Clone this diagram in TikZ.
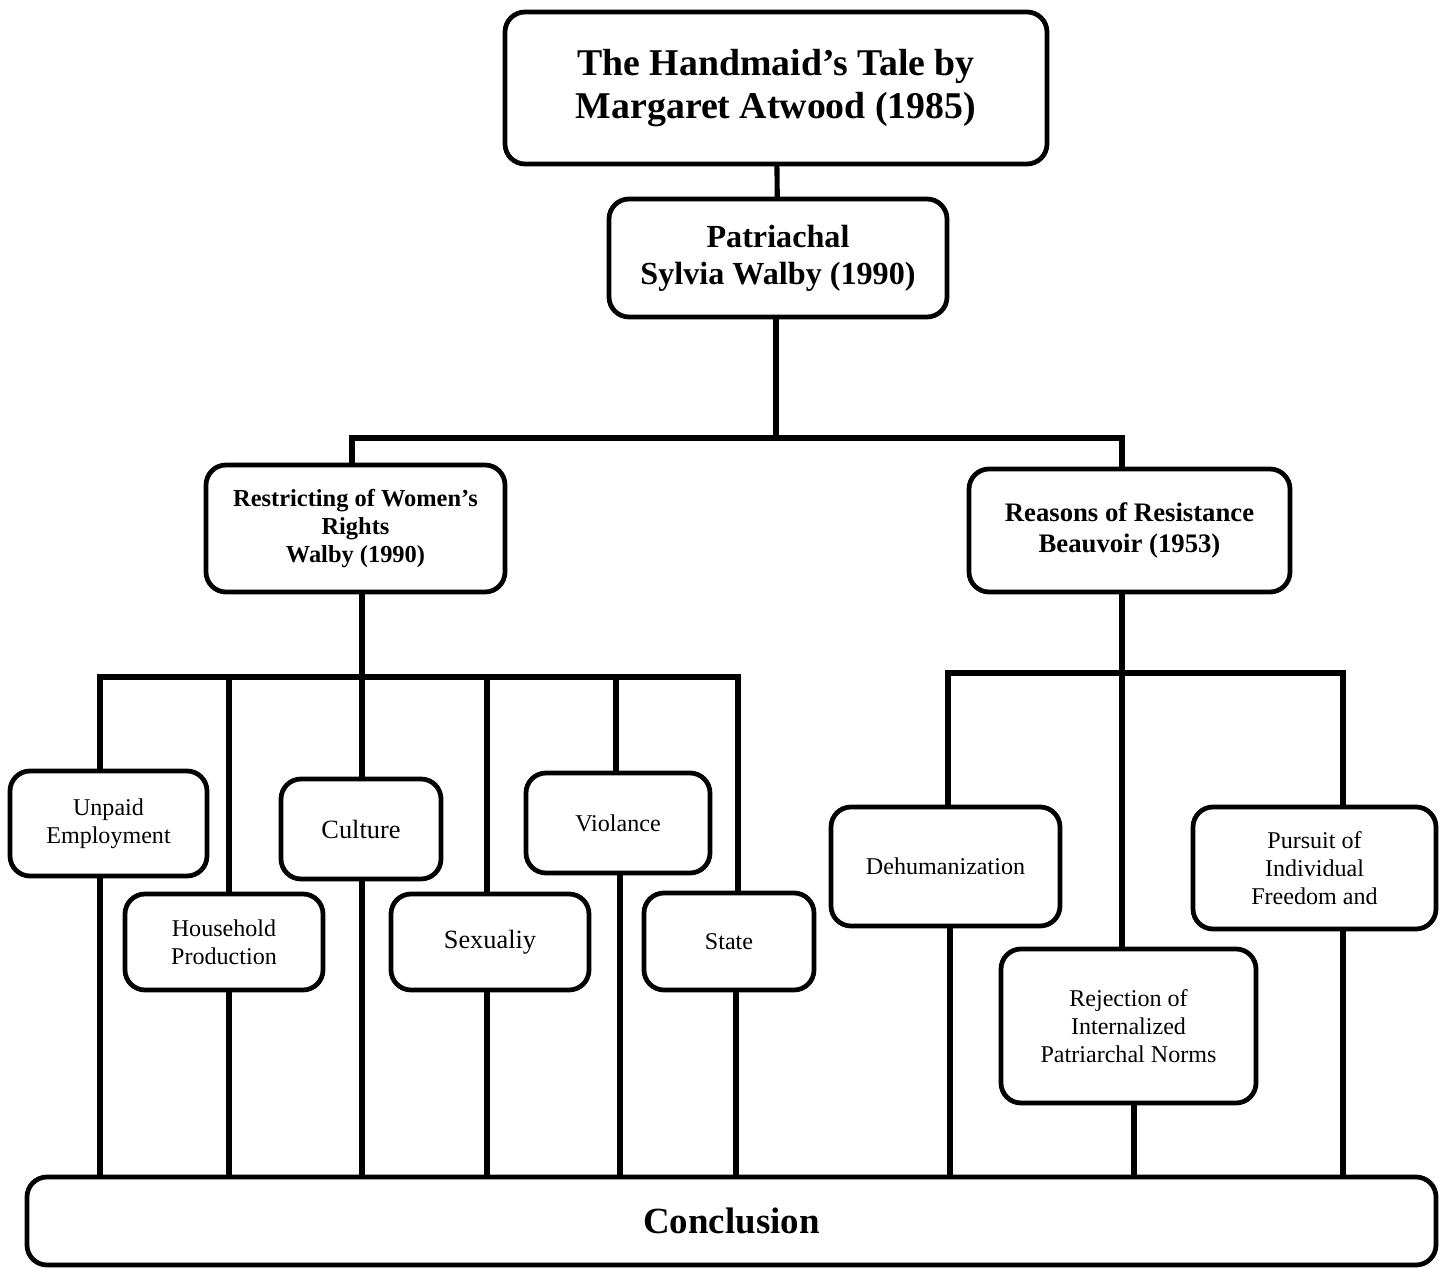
\documentclass[tikz,border=0pt]{standalone}
\usepackage{fontspec}
\setmainfont{Liberation Serif}
\usetikzlibrary{positioning}

\tikzset{
  box/.style={draw,rounded corners=4mm,line width=2.7pt,align=center,inner sep=0pt},
  link/.style={line width=2.9pt,line cap=rect},
  small/.style={font=\fontsize{13.7}{16}\selectfont}
}

\begin{document}
\begin{tikzpicture}[x=0.2mm,y=-0.2mm]
    \useasboundingbox (0,0) rectangle (1448,1268);
    % top of the tree
    \node[box,minimum width=108.4mm,minimum height=30.4mm,font=\fontsize{21.5}{24}\selectfont\bfseries] (title) at (776,88) {The Handmaid’s Tale by\\Margaret Atwood (1985)};
    \node[box,minimum width=67.6mm,minimum height=23.6mm,font=\fontsize{18.3}{21}\selectfont\bfseries] (patr) at (778,258) {Patriachal\\Sylvia Walby (1990)};
    \node[box,minimum width=59.8mm,minimum height=25.4mm,font=\fontsize{13.9}{16}\selectfont\bfseries] (restr) at (355.5,528.5) {Restricting of Women’s\\Rights\\Walby (1990)};
    \node[box,minimum width=64.2mm,minimum height=24.6mm,font=\fontsize{15.2}{17.6}\selectfont\bfseries] (reas) at (1129.5,530.5) {Reasons of Resistance\\Beauvoir (1953)};
    % left branch
    \node[box,small,minimum width=39.4mm,minimum height=21mm] (unpaid) at (108.5,823.5) {Unpaid\\Employment};
    \node[box,small,minimum width=39.6mm,minimum height=19.2mm] (house) at (224,942) {Household\\Production};
    \node[box,minimum width=32mm,minimum height=20mm,font=\fontsize{15}{18}\selectfont] (cult) at (361,829) {Culture};
    \node[box,minimum width=39.6mm,minimum height=19.2mm,font=\fontsize{15}{18}\selectfont] (sex) at (490,942) {Sexualiy};
    \node[box,small,minimum width=36.8mm,minimum height=20mm] (viol) at (618,823) {Violance};
    \node[box,small,minimum width=34mm,minimum height=19.4mm] (state) at (729,941.5) {State};
    % right branch
    \node[box,small,minimum width=45.8mm,minimum height=23.8mm] (dehum) at (945.5,866.5) {Dehumanization};
    \node[box,small,minimum width=51mm,minimum height=30.8mm] (rej) at (1128.5,1026) {Rejection of\\Internalized\\Patriarchal Norms};
    \node[box,small,minimum width=48.6mm,minimum height=24.4mm] (purs) at (1314.5,868) {Pursuit of\\Individual\\Freedom and};
    % bottom
    \node[box,minimum width=281.8mm,minimum height=17.6mm,font=\fontsize{21}{24}\selectfont\bfseries] (concl) at (731.5,1221) {Conclusion};

    % junctions
    \coordinate (busL) at (352,438);
    \coordinate (busR) at (1122,438);
    \coordinate (busA) at (776,438);
    \coordinate (restrD) at (362,591);
    \coordinate (lbL) at (100,677);
    \coordinate (lbR) at (738,677);
    \coordinate (reasD) at (1122,591);
    \coordinate (rbL) at (948,673);
    \coordinate (rbR) at (1343,673);

    \draw[link] (title) -- (patr);
    \draw[link] (patr.south -| busA) -- (busA);
    \draw[link] (busL) -- (busR);
    \draw[link] (busL) -- (restr.north -| busL);
    \draw[link] (busR) -- (reas.north -| busR);

    \draw[link] (restr.south -| restrD) -- (restrD |- lbL);
    \draw[link] (lbL) -- (lbR);
    \draw[link] (lbL) -- (unpaid.north -| lbL);
    \draw[link] (lbL -| 229,0) -- (house.north -| 229,0);
    \draw[link] (lbL -| 362,0) -- (cult.north -| 362,0);
    \draw[link] (lbL -| 487,0) -- (sex.north -| 487,0);
    \draw[link] (lbL -| 616,0) -- (viol.north -| 616,0);
    \draw[link] (lbR) -- (state.north -| lbR);

    \draw[link] (reas.south -| reasD) -- (reasD |- rbL);
    \draw[link] (rbL) -- (rbR);
    \draw[link] (rbL) -- (dehum.north -| rbL);
    \draw[link] (rbL -| 1122,0) -- (rej.north -| 1122,0);
    \draw[link] (rbR) -- (purs.north -| rbR);

    % down to the conclusion
    \draw[link] (unpaid.south -| 100,0) -- (concl.north -| 100,0);
    \draw[link] (house.south -| 229,0) -- (concl.north -| 229,0);
    \draw[link] (cult.south -| 362,0) -- (concl.north -| 362,0);
    \draw[link] (sex.south -| 487,0) -- (concl.north -| 487,0);
    \draw[link] (viol.south -| 620,0) -- (concl.north -| 620,0);
    \draw[link] (state.south -| 736,0) -- (concl.north -| 736,0);
    \draw[link] (dehum.south -| 950,0) -- (concl.north -| 950,0);
    \draw[link] (rej.south -| 1134,0) -- (concl.north -| 1134,0);
    \draw[link] (purs.south -| 1343,0) -- (concl.north -| 1343,0);
\end{tikzpicture}
\end{document}
